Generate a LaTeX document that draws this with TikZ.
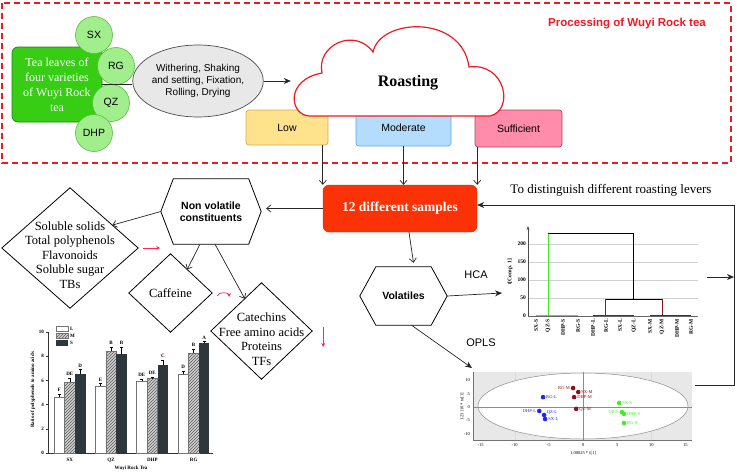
\documentclass[tikz,border=0pt]{standalone}
\usepackage{fontspec}
\setmainfont{Liberation Serif}
\setsansfont{Liberation Sans}
\renewcommand{\familydefault}{\sfdefault}
\usetikzlibrary{arrows.meta,calc,shapes.geometric,patterns}

\definecolor{framered}{RGB}{240,25,35}
\definecolor{teagreen}{RGB}{55,205,20}
\definecolor{teaedge}{RGB}{40,125,20}
\definecolor{leafgreen}{RGB}{160,238,140}
\definecolor{leafedge}{RGB}{90,190,60}
\definecolor{lowfill}{RGB}{255,226,140}
\definecolor{lowedge}{RGB}{205,170,80}
\definecolor{modfill}{RGB}{180,220,252}
\definecolor{modedge}{RGB}{100,165,235}
\definecolor{suffill}{RGB}{255,140,170}
\definecolor{sufedge}{RGB}{170,70,90}
\definecolor{samplefill}{RGB}{250,50,5}
\definecolor{sampleedge}{RGB}{200,50,20}
\definecolor{pinkhint}{RGB}{250,40,90}
\definecolor{bardark}{RGB}{45,55,60}
\definecolor{mgroup}{RGB}{135,20,30}
\definecolor{lgroup}{RGB}{30,40,240}
\definecolor{sgroup}{RGB}{70,235,40}

\begin{document}
\begin{tikzpicture}[
  x=1pt,y=-1pt,
  font=\sffamily,
  link/.style={draw=black!85, line width=0.7pt},
  arr/.style={link, -{Straight Barb[length=4pt,width=7pt]}},
  farr/.style={link, -{Stealth[length=7pt,width=6pt]}},
  pinkarrow/.style={-{Stealth[length=4pt,width=4pt]}, draw=pinkhint, line width=0.7pt},
  variety/.style={circle, draw=leafedge, fill=leafgreen, line width=0.6pt, minimum size=37pt, inner sep=0pt, font=\sffamily\fontsize{10.5}{12}\selectfont},
  roastbox/.style={rounded corners=3pt, line width=0.7pt, inner sep=0pt, font=\sffamily\fontsize{10.5}{12}\selectfont},
  holder/.style={inner sep=0pt, align=center},
  outline/.style={draw=black, line width=0.8pt},
  listfont/.style={font=\rmfamily\fontsize{12.5}{14.5}\selectfont},
  tagfont/.style={font=\sffamily\bfseries\fontsize{10.5}{12.5}\selectfont},
  chartlab/.style={inner sep=1pt, font=\rmfamily\bfseries\fontsize{5}{6}\selectfont}
]
\fill[white] (0,0) rectangle (737,472);
\path[use as bounding box] (0,0) rectangle (737,472);

% Processing frame
\draw[framered, line width=1.6pt, dash pattern=on 6pt off 4pt] (2,3) rectangle (731,163);
\node[text=framered, font=\sffamily\bfseries\fontsize{11.5}{13}\selectfont] (ptitle) at (627,24) {Processing of Wuyi Rock tea};

% Tea leaves and the four varieties
\node[draw=teaedge, fill=teagreen, rounded corners=6pt, line width=0.7pt, minimum width=90pt, minimum height=75pt,
  align=center, text=white, font=\rmfamily\fontsize{12}{15}\selectfont] (tea) at (57,84.5)
  {Tea leaves of\\four varieties\\of Wuyi Rock\\tea};
\node[variety] (sx) at (94,35) {SX};
\node[variety] (rg) at (116,66) {RG};
\node[variety] (qz) at (111,103) {QZ};
\node[variety] (dhp) at (94,133) {DHP};

\node[ellipse, draw=black!70, fill=black!9, line width=0.7pt, minimum width=110pt, minimum height=72pt, inner sep=0pt,
  align=center, font=\sffamily\fontsize{10}{12}\selectfont] (steps) at (198,81)
  {Withering, Shaking\\and setting, Fixation,\\Rolling, Drying};
\draw[link] (tea.east) -- (tea.east -| steps.west);

% Roasting levels, the cloud sits on top of them
\node[roastbox, draw=lowedge, fill=lowfill, minimum width=82pt, minimum height=35pt] (low) at (287,127.5) {Low};
\node[roastbox, draw=modedge, fill=modfill, minimum width=95pt, minimum height=36pt] (mod) at (403.5,128) {Moderate};
\node[roastbox, draw=sufedge, fill=suffill, minimum width=87pt, minimum height=37pt] (suf) at (518.5,128.5) {Sufficient};

\node[minimum width=212pt, minimum height=88pt, inner sep=0pt] (roast) at (397,72) {};
\draw[draw=framered, fill=white, line width=1.2pt] (310,116)
  .. controls (290,116) and (284,80) .. (322,73)
  .. controls (316,45) and (355,27) .. (373,52)
  .. controls (380,18) and (462,14) .. (469,67)
  .. controls (505,62) and (515,110) .. (490,116) -- cycle;
\node[font=\rmfamily\bfseries\fontsize{16}{18}\selectfont] (roastlab) at (408,83) {Roasting};
\draw[farr] (steps.east) -- (steps.east -| roast.west);

% Samples
\node[draw=sampleedge, fill=samplefill, rounded corners=6pt, minimum width=154pt, minimum height=47pt, text=white,
  font=\rmfamily\bfseries\fontsize{13.5}{15}\selectfont] (samp) at (400,208.5) {12 different samples};
\draw[arr] (low.south -| samp.north west) -- (samp.north west);
\draw[arr] (mod.south) -- (mod.south |- samp.north);
\draw[arr] (suf.south -| samp.north east) -- (samp.north east);

% Non volatile branch
\node[holder, tagfont, minimum width=100pt, minimum height=65pt] (nonvol) at (211,211.5) {Non volatile\\constituents};
\draw[outline] (nonvol.west) -- ([xshift=12.5pt]nonvol.north west) -- ([xshift=-12.5pt]nonvol.north east)
  -- (nonvol.east) -- ([xshift=-12.5pt]nonvol.south east) -- ([xshift=12.5pt]nonvol.south west) -- cycle;
\draw[arr, shorten >=5pt] (samp.west) -- (samp.west -| nonvol.east);

\node[holder, minimum width=136pt, minimum height=120pt] (solids) at (70,248) {};
\draw[outline] (solids.north) -- (solids.east) -- (solids.south) -- (solids.west) -- cycle;
\node[holder, listfont] (solidslist) at (70,255) {Soluble solids\\Total polyphenols\\Flavonoids\\Soluble sugar\\TBs};

\node[holder, listfont, minimum width=83pt, minimum height=78pt] (caff) at (170.5,293) {Caffeine};
\draw[outline] (caff.north) -- (caff.east) -- (caff.south) -- (caff.west) -- cycle;

\node[holder, minimum width=101pt, minimum height=96pt] (cat) at (261.5,331) {};
\draw[outline] (cat.north) -- (cat.east) -- (cat.south) -- (cat.west) -- cycle;
\node[holder, listfont] (catlist) at (261.5,339) {Catechins\\Free amino acids\\Proteins\\TFs};

\draw[arr] (nonvol.west) -- ($(solids.north)!0.62!(solids.east)$);
\draw[arr] ($(nonvol.south)+(-11,0)$) -- ($(caff.north)!0.4!(caff.east)$);
\draw[arr] ($(nonvol.south)+(4,0)$) -- ($(cat.north)!0.33!(cat.west)$);

% trend hints
\draw[pinkarrow] ($(solids.east)+(5,0)$) -- ++(17,0);
\draw[pinkarrow] ($(caff.east)+(5,3)$) to[bend left=80] ++(12,1);
\draw[pinkarrow] ($(cat.east)+(11,-4)$) -- ++(0,20);

% Volatiles branch
\node[holder, tagfont, minimum width=87pt, minimum height=58pt] (vol) at (403.5,296) {Volatiles};
\draw[outline] (vol.west) -- ([xshift=16pt]vol.north west) -- ([xshift=-16pt]vol.north east)
  -- (vol.east) -- ([xshift=-16pt]vol.south east) -- ([xshift=16pt]vol.south west) -- cycle;
\draw[arr] ($(samp.south)+(9,0)$) -- ($(vol.north)+(10,-4)$);

\coordinate (hcain) at (502,293);
\coordinate (oplsin) at (472,368);
\draw[farr] (vol.east) -- (hcain);
\draw[farr] ($(vol.south)+(8,0)$) -- (oplsin);
\node[font=\sffamily\fontsize{11}{13}\selectfont] (hcalab) at (476,275) {HCA};
\node[font=\sffamily\fontsize{11}{13}\selectfont] (oplslab) at (481,343) {OPLS};

% Feedback loop
\node[font=\rmfamily\fontsize{13}{15}\selectfont] (goal) at (611,190) {To distinguish different roasting levers};
\coordinate (fbtop) at (734,205);
\coordinate (fbbot) at (734,385);
\coordinate (hcaout) at (707,277);
\coordinate (oplsout) at (695,385);
\draw[farr] (oplsout) -- (fbbot) -- (fbtop) -- (fbtop -| samp.east);
\draw[farr] (hcaout) -- (hcaout -| fbtop);

% Bar chart: ratio of polyphenols to amino acids
\begin{scope}[font=\rmfamily\bfseries\fontsize{5}{6}\selectfont]
  \draw[black!80, line width=0.5pt] (48,332) -- (48,453) -- (213,453);
  \foreach \v [count=\k] in {0,2,...,10} {
    \draw[black!80, line width=0.4pt] (48,{453-12.1*\v}) -- ++(-2,0);
    \node[chartlab, anchor=east] (bt\k) at (45,{453-12.1*\v}) {\v};
  }
  \foreach \nm/\vL/\vM/\vS/\eL/\eM/\eS/\tL/\tM/\tS [count=\k from 0] in {
      SX/4.6/5.85/6.55/0.3/0.35/0.35/F/DE/D,
      QZ/5.5/8.4/8.15/0.25/0.35/0.6/E/B/B,
      DHP/5.95/6.15/7.25/0.15/0.15/0.45/DE/DE/C,
      RG/6.5/8.25/9.1/0.25/0.35/0.12/D/B/A} {
    \pgfmathsetmacro{\xa}{54+41.3*\k}
    \pgfmathsetmacro{\xb}{\xa+10.5}
    \pgfmathsetmacro{\xc}{\xa+21}
    \draw[black!55, fill=white, line width=0.5pt] (\xa,453) rectangle ({\xa+10.5},{453-12.1*\vL});
    \fill[black!18] (\xb,453) rectangle ({\xb+10.5},{453-12.1*\vM});
    \draw[black!55, pattern=north east lines, pattern color=black!65, line width=0.5pt] (\xb,453) rectangle ({\xb+10.5},{453-12.1*\vM});
    \fill[bardark] (\xc,453) rectangle ({\xc+10.5},{453-12.1*\vS});
    \draw[line width=0.4pt] ({\xa+5.25},{453-12.1*\vL}) -- ++(0,{-12.1*\eL}) ++(-1.5,0) -- ++(3,0);
    \draw[line width=0.4pt] ({\xb+5.25},{453-12.1*\vM}) -- ++(0,{-12.1*\eM}) ++(-1.5,0) -- ++(3,0);
    \draw[line width=0.4pt] ({\xc+5.25},{453-12.1*\vS}) -- ++(0,{-12.1*\eS}) ++(-1.5,0) -- ++(3,0);
    \node[chartlab] (ta\k) at ({\xa+5.25},{449-12.1*(\vL+\eL)}) {\tL};
    \node[chartlab] (tb\k) at ({\xb+5.25},{449-12.1*(\vM+\eM)}) {\tM};
    \node[chartlab] (tc\k) at ({\xc+5.25},{449-12.1*(\vS+\eS)}) {\tS};
    \node[chartlab] (bc\k) at ({\xb+5.25},460) {\nm};
  }
  % legend
  \draw[black!55, fill=white, line width=0.4pt] (56,326) rectangle (68,331.5);
  \fill[black!18] (56,333) rectangle (68,338.5);
  \draw[black!55, pattern=north east lines, pattern color=black!65, line width=0.4pt] (56,333) rectangle (68,338.5);
  \fill[bardark] (56,340) rectangle (68,345.5);
  \node[chartlab, anchor=west] (lgl) at (69,328.75) {L};
  \node[chartlab, anchor=west] (lgm) at (69,335.75) {M};
  \node[chartlab, anchor=west] (lgs) at (69,342.75) {S};
  \node[chartlab, rotate=90] (bylab) at (33,390) {Ratio of polyphenols to amino acids};
  \node[chartlab] (bxlab) at (131,468) {Wuyi Rock Tea};
\end{scope}

% HCA dendrogram
\begin{scope}[font=\rmfamily\bfseries\fontsize{5.5}{6}\selectfont]
  \foreach \v in {50,100,150,200}
    \draw[black!18, line width=0.5pt] (528,{316-0.36*\v}) -- (698,{316-0.36*\v});
  \draw[black!60, line width=0.6pt] (528,316) -- (698,316);
  \draw[black!70, line width=0.6pt, -{Stealth[length=4pt,width=3pt]}] (528,316) -- (528,226);
  \foreach \v [count=\k] in {0,50,100,150,200}
    \node[anchor=east, inner sep=1pt] (dt\k) at (527,{316-0.36*\v}) {\v};
  \node[rotate=90, inner sep=1pt] (dylab) at (510,272) {t[Comp. 1]};
  \foreach \x/\s [count=\k] in {536/SX-S,548/QZ-S,563/DHP-S,578/RG-S,593/DHP-L,606/RG-L,
      620/SX-L,634/QZ-L,650/SX-M,662/QZ-M,677/DHP-M,691/RG-M}
    \node[rotate=90, anchor=east, inner sep=1pt] (dl\k) at (\x,318) {\s};
  % cluster tree
  \draw[sgroup, line width=1pt] (536,315) -- (578,315) (548,315) -- (548,233);
  \draw[black, line width=0.9pt] (548,233) -- (633,233) -- (633,299) (605,299) -- (662,299);
  \draw[lgroup, line width=1pt] (593,315) -- (634,315) (605,315) -- (605,299);
  \draw[mgroup, line width=1pt] (650,315) -- (691,315) (662,315) -- (662,299);
\end{scope}

% OPLS score plot
\begin{scope}[font=\rmfamily\fontsize{4.5}{5}\selectfont]
  \fill[black!9] (473,372) rectangle (692,440);
  \foreach \v in {-10,-5,5,10}
    \draw[black!15, line width=0.4pt] ({583+6.83*\v},372) -- ({583+6.83*\v},440);
  \draw[black!45, fill=white, line width=0.5pt] (583,406) ellipse [x radius=105, y radius=33];
  \draw[black!45, line width=0.5pt] (583,372) -- (583,440) (473,407) -- (692,407);
  \draw[black!55, line width=0.5pt] (473,372) -- (473,440) -- (692,440);
  \foreach \v [count=\k] in {-15,-10,...,15}
    \node[anchor=north, inner sep=1pt] (ox\k) at ({583+6.83*\v},442) {\v};
  \foreach \v [count=\k] in {-10,-5,...,10}
    \node[anchor=east, inner sep=1pt] (oy\k) at (471,{407-2.67*\v}) {\v};
  \node[inner sep=1pt] (oxlab) at (583,453) {1.00025 * t[1]};
  \node[rotate=90, inner sep=1pt] (oylab) at (462,407) {1.23116 * to[1]};
  \foreach \px/\py/\s/\col/\anc/\dx [count=\k] in {
      -1.45/7.1/RG-M/mgroup/east/-2.5, -0.7/5.6/SX-M/mgroup/west/2.5,
      -1.3/3.7/DHP-M/mgroup/west/2.5, -1.0/-0.7/QZ-M/mgroup/west/2.5,
      -5.85/3.7/RG-L/lgroup/west/2.5, -6.4/-1.5/DHP-L/lgroup/east/-2.5,
      -5.7/-3/QZ-L/lgroup/south west/2, -5.55/-4.5/SX-L/lgroup/west/2.5,
      5.3/1.5/SX-S/sgroup/west/2.5, 5.7/-1.9/QZ-S/sgroup/east/-2.5,
      6.0/-2.6/DHP-S/sgroup/west/2.5, 6.0/-6.0/RG-S/sgroup/west/2.5} {
    \fill[\col] ({583+6.83*\px},{407-2.67*\py}) circle (2.3);
    \node[anchor=\anc, text=\col, inner sep=0.5pt] (op\k) at ({583+6.83*\px+\dx},{407-2.67*\py}) {\s};
  }
\end{scope}

\end{tikzpicture}
\end{document}
